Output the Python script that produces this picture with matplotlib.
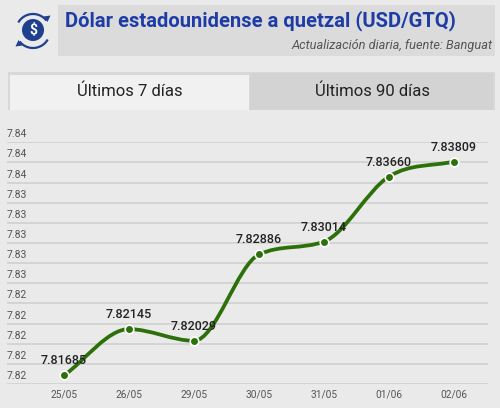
import numpy as np
import matplotlib
matplotlib.use("Agg")
import matplotlib.pyplot as plt
from matplotlib.patches import Rectangle, Circle, Polygon, PathPatch
from matplotlib.path import Path

plt.rcParams['font.family'] = ['Roboto', 'DejaVu Sans']

# ---- data ----
dates = ["25/05", "26/05", "29/05", "30/05", "31/05", "01/06", "02/06"]
rates = [7.81685, 7.82145, 7.82029, 7.82886, 7.83014, 7.83660, 7.83809]
value_labels = ["7.81685", "7.82145", "7.82029", "7.82886", "7.83014", "7.83660", "7.83809"]
ytick_values = [7.816, 7.818, 7.820, 7.822, 7.824, 7.826, 7.828, 7.830,
                7.832, 7.834, 7.836, 7.838, 7.840]
ytick_labels = ["7.82", "7.82", "7.82", "7.82", "7.82", "7.83", "7.83", "7.83",
                "7.83", "7.83", "7.84", "7.84", "7.84"]
title = "Dólar estadounidense a quetzal (USD/GTQ)"
subtitle = "Actualización diaria, fuente: Banguat"
tabs = ["Últimos 7 días", "Últimos 90 días"]

W, H = 500, 408
BG = "#ebeaeb"
GREEN = "#2c700a"

fig = plt.figure(figsize=(W / 100, H / 100), dpi=100, facecolor=BG)

# ---- background overlay in pixel coordinates ----
bg = fig.add_axes([0, 0, 1, 1], zorder=0)
bg.set_xlim(0, W)
bg.set_ylim(H, 0)
bg.axis("off")

# header box
bg.add_patch(Rectangle((58, 5), 437, 51, facecolor="#dcdbdc", edgecolor="none"))
bg.text(65, 21, title, fontsize=14.5, fontweight="bold", color="#1d3ca6",
        ha="left", va="center")
bg.text(492.5, 45, subtitle, fontsize=9.2, fontstyle="italic", color="#555555",
        ha="right", va="center")

# icon
ICON = "#1f3f8f"
bg.add_patch(Circle((33, 30), 11, facecolor=ICON, edgecolor="none"))
bg.text(33, 30.5, "$", fontsize=10, fontweight="bold", color="white",
        ha="center", va="center")
t = np.linspace(np.radians(150), np.radians(38), 40)
bg.plot(33 + 17 * np.cos(t), 31 - 17 * np.sin(t), color=ICON, lw=1.6,
        solid_capstyle="butt")
bg.add_patch(Polygon([[43.5, 16.5], [50.5, 15.5], [47.5, 22.0]], closed=True,
                     facecolor=ICON, edgecolor="none"))
t2 = np.linspace(np.radians(-30), np.radians(-142), 40)
bg.plot(33 + 17 * np.cos(t2), 31 - 17 * np.sin(t2), color=ICON, lw=1.6,
        solid_capstyle="butt")
bg.add_patch(Polygon([[22.5, 45.5], [15.5, 46.5], [18.5, 40.0]], closed=True,
                     facecolor=ICON, edgecolor="none"))

# tabs
bg.add_patch(Rectangle((8, 72), 487, 38, facecolor="#d9d8d9", edgecolor="none"))
bg.add_patch(Rectangle((250, 72.5), 243, 37.5, facecolor="#d3d3d3", edgecolor="none"))
bg.add_patch(Rectangle((10, 74.5), 239, 35.5, facecolor="#f2f1f2", edgecolor="none"))
bg.text(129.5, 91, tabs[0], fontsize=12, color="#222222", ha="center", va="center")
bg.text(372.5, 91, tabs[1], fontsize=12, color="#222222", ha="center", va="center")

# ---- chart axes ----
left_px, right_px, top_px, bot_px = 7, 488, 142.3, 384
ax = fig.add_axes([left_px / W, 1 - bot_px / H, (right_px - left_px) / W,
                   (bot_px - top_px) / H], zorder=1)
ax.set_facecolor("none")
for s in ax.spines.values():
    s.set_visible(False)

x = np.arange(len(dates), dtype=float)
y = np.array(rates)
ax.set_xlim(-0.877, 6.523)
ax.set_ylim(ytick_values[0], ytick_values[-1])

for v, lab in zip(ytick_values, ytick_labels):
    ax.axhline(v, color="#d2d2d2", lw=1.3, zorder=1)
    ax.annotate(lab, xy=(0, v), xycoords=("axes fraction", "data"),
                xytext=(0, 3), textcoords="offset pixels",
                fontsize=7.5, color="#555555", ha="left", va="bottom")

ax.set_yticks([])
ax.set_xticks(x)
ax.set_xticklabels(dates, fontsize=7.3, color="#555555")
ax.tick_params(axis="x", length=0, pad=4)

# monotone cubic (Chart.js style) Bezier path through the data points
n = len(x)
dk = np.diff(y) / np.diff(x)
mk = np.zeros(n)
mk[0], mk[-1] = dk[0], dk[-1]
for i in range(1, n - 1):
    if dk[i - 1] == 0 or dk[i] == 0 or np.sign(dk[i - 1]) != np.sign(dk[i]):
        mk[i] = 0
    else:
        mk[i] = (dk[i - 1] + dk[i]) / 2
for i in range(n - 1):
    if dk[i] == 0:
        mk[i] = mk[i + 1] = 0
        continue
    a, b = mk[i] / dk[i], mk[i + 1] / dk[i]
    tau = a * a + b * b
    if tau > 9:
        tk = 3 / np.sqrt(tau)
        mk[i] = a * tk * dk[i]
        mk[i + 1] = b * tk * dk[i]
verts = [(x[0], y[0])]
codes = [Path.MOVETO]
for i in range(n - 1):
    d = (x[i + 1] - x[i]) / 3
    verts += [(x[i] + d, y[i] + mk[i] * d),
              (x[i + 1] - d, y[i + 1] - mk[i + 1] * d),
              (x[i + 1], y[i + 1])]
    codes += [Path.CURVE4] * 3
ax.add_patch(PathPatch(Path(verts, codes), facecolor="none", edgecolor=GREEN,
                       lw=2.7, zorder=3, capstyle="round"))

ax.plot(x, y, linestyle="none", marker="o", ms=6.2, mfc=GREEN, mec="white",
        mew=1.2, zorder=4, clip_on=False)

for xi, yi, lab in zip(x, y, value_labels):
    ax.annotate(lab, xy=(xi, yi), xytext=(0, 8), textcoords="offset pixels",
                fontsize=9, fontweight="medium", color="#222222",
                ha="center", va="bottom", zorder=5)

fig.savefig("out.png", dpi=100, facecolor=BG)
